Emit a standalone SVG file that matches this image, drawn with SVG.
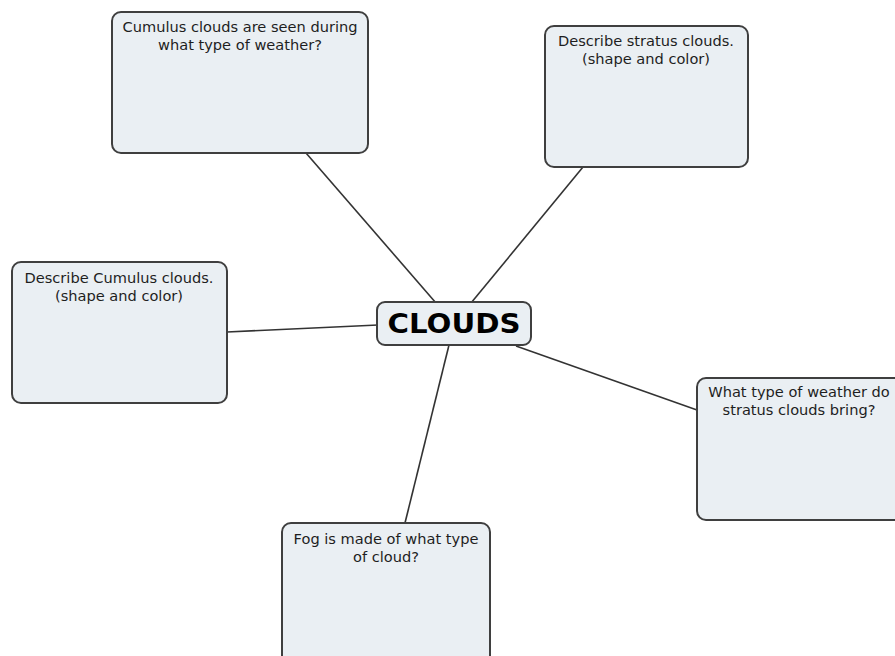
<svg xmlns="http://www.w3.org/2000/svg" width="895" height="656" viewBox="0 0 895 656">
  <style>
    .box { fill: #eaeff3; stroke: #3f3f3f; stroke-width: 2; }
    .lbl { font-family: "DejaVu Sans", Verdana, sans-serif; font-size: 14.6px; fill: #1e1e1e; text-anchor: middle; }
    .title { font-family: "DejaVu Sans", Verdana, sans-serif; font-size: 27px; font-weight: bold; fill: #000; text-anchor: middle; }
    .link { stroke: #333; stroke-width: 1.6; fill: none; }
  </style>
  <rect width="895" height="656" fill="#ffffff"/>

  <!-- connectors from the central topic to each question -->
  <g id="connectors">
    <line class="link" x1="306" y1="153" x2="436" y2="303"/>
    <line class="link" x1="583" y1="167" x2="471" y2="303"/>
    <line class="link" x1="227" y1="332" x2="378" y2="325"/>
    <line class="link" x1="697" y1="410" x2="516" y2="346"/>
    <line class="link" x1="405" y1="523" x2="449" y2="345"/>
  </g>

  <g id="node-cumulus-weather">
    <rect class="box" x="112" y="12" width="256" height="141" rx="9"/>
    <text class="lbl" x="240" y="32">Cumulus clouds are seen during</text>
    <text class="lbl" x="240" y="50">what type of weather?</text>
  </g>

  <g id="node-stratus-describe">
    <rect class="box" x="545" y="26" width="203" height="141" rx="9"/>
    <text class="lbl" x="646" y="46">Describe stratus clouds.</text>
    <text class="lbl" x="646" y="64">(shape and color)</text>
  </g>

  <g id="node-cumulus-describe">
    <rect class="box" x="12" y="262" width="215" height="141" rx="9"/>
    <text class="lbl" x="119" y="283">Describe Cumulus clouds.</text>
    <text class="lbl" x="119" y="301">(shape and color)</text>
  </g>

  <g id="node-stratus-weather">
    <rect class="box" x="697" y="378" width="212" height="142" rx="9"/>
    <text class="lbl" x="799" y="397">What type of weather do</text>
    <text class="lbl" x="799" y="415">stratus clouds bring?</text>
  </g>

  <g id="node-fog">
    <rect class="box" x="282" y="523" width="208" height="150" rx="9"/>
    <text class="lbl" x="386" y="544">Fog is made of what type</text>
    <text class="lbl" x="386" y="562">of cloud?</text>
  </g>

  <g id="node-clouds">
    <rect class="box" x="377" y="302" width="154" height="43" rx="8"/>
    <text class="title" x="454" y="333" textLength="133" lengthAdjust="spacingAndGlyphs">CLOUDS</text>
  </g>
</svg>
